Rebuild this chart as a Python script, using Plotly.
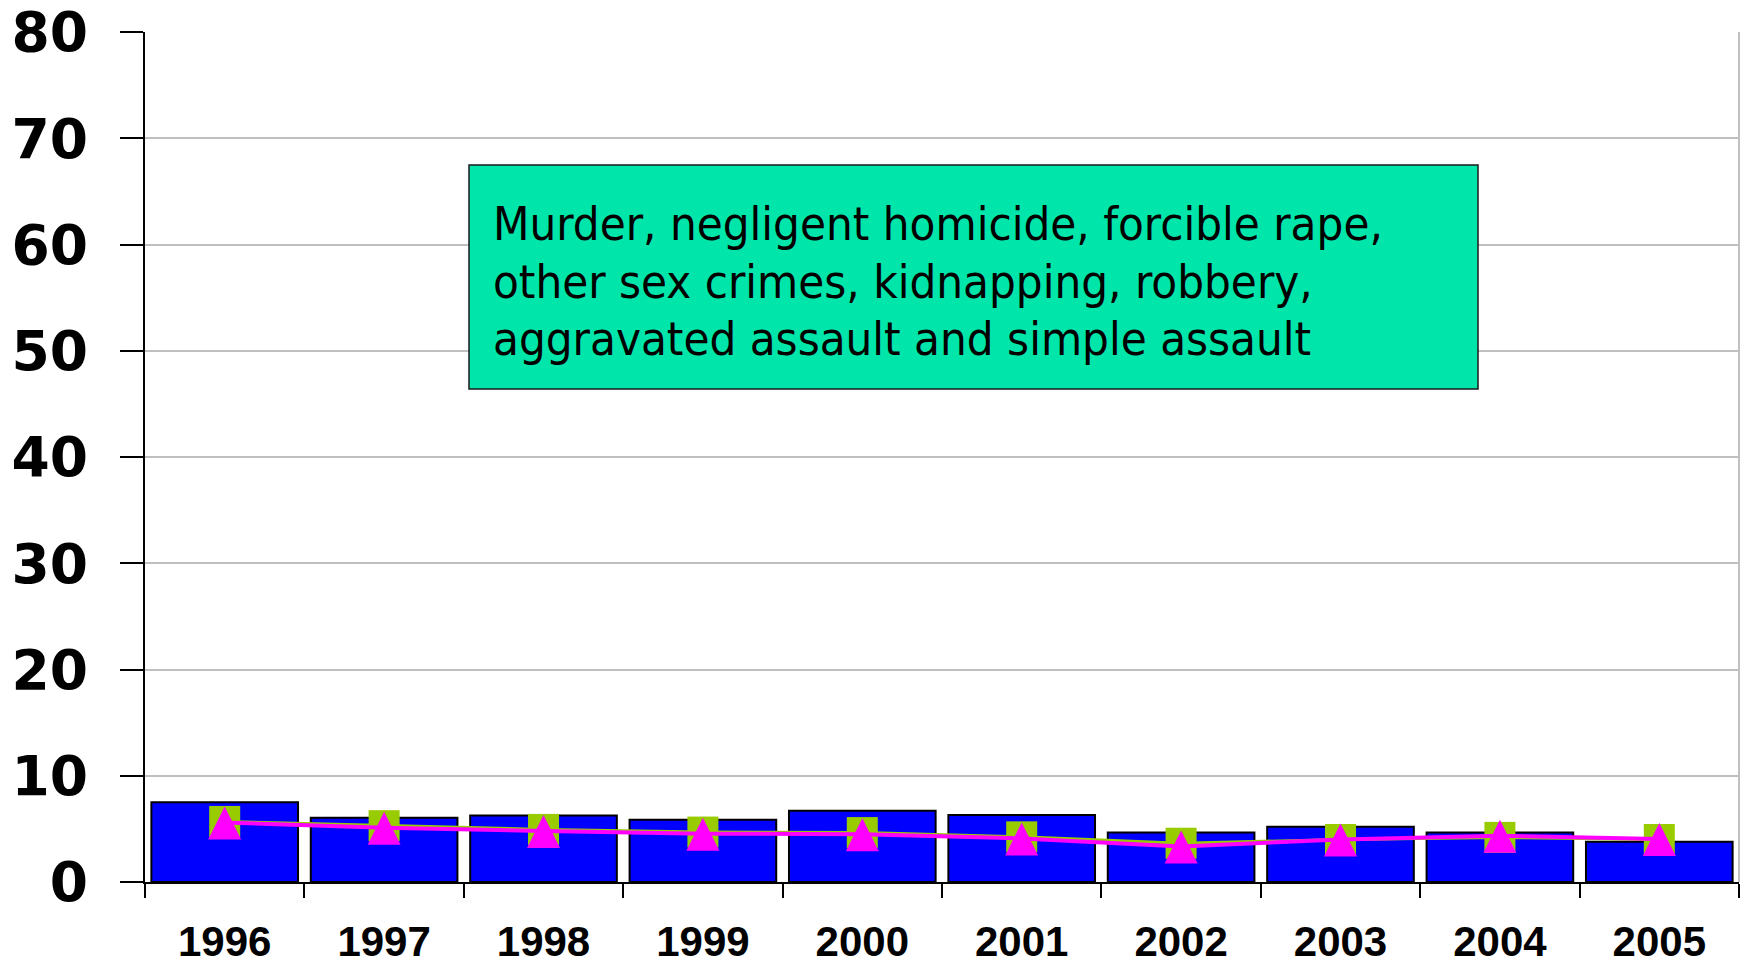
import plotly.graph_objects as go

# Yearly rates, 1996-2005
years = ["1996", "1997", "1998", "1999", "2000", "2001", "2002", "2003", "2004", "2005"]
bar_values = [7.5, 6.05, 6.25, 5.85, 6.7, 6.3, 4.65, 5.2, 4.65, 3.8]
green_values = [5.7, 5.3, 4.95, 4.7, 4.65, 4.25, 3.65, 4.0, 4.2, 4.0]
magenta_values = [5.6, 5.1, 4.8, 4.55, 4.5, 4.1, 3.35, 4.0, 4.35, 4.05]
y_ticks = [0, 10, 20, 30, 40, 50, 60, 70, 80]

note_lines = [
    "Murder, negligent homicide, forcible rape,",
    "other sex crimes, kidnapping, robbery,",
    "aggravated assault and simple assault",
]

W, H = 1742, 967
ML, MR, MT, MB = 145, 3, 32, 85
PW, PH = W - ML - MR, H - MT - MB


def px_x(x):
    return (x - ML) / PW


def px_y(y):
    return (H - MB - y) / PH


fig = go.Figure()

fig.add_trace(go.Bar(
    x=years, y=bar_values,
    marker=dict(color="#0000FF", line=dict(color="#000000", width=2)),
    showlegend=False, hoverinfo="x+y",
))

# Green series: line, then square markers
fig.add_trace(go.Scatter(
    x=years, y=green_values, mode="lines",
    line=dict(color="#99CC00", width=3), showlegend=False,
))
fig.add_trace(go.Scatter(
    x=years, y=green_values, mode="markers",
    marker=dict(symbol="square", size=31, color="#99CC00", line=dict(width=0)),
    showlegend=False,
))

# Magenta series: line, then upward triangles centred on each point
fig.add_trace(go.Scatter(
    x=years, y=magenta_values, mode="lines",
    line=dict(color="#FF00FF", width=4), showlegend=False,
))
fig.add_trace(go.Scatter(
    x=years, y=magenta_values, mode="markers",
    marker=dict(symbol="arrow-down", angle=180, size=33, standoff=16,
                color="#FF00FF", line=dict(width=0)),
    showlegend=False,
))

# Note box
fig.add_shape(
    type="rect", xref="paper", yref="paper",
    x0=px_x(469), x1=px_x(1478), y0=px_y(389), y1=px_y(165),
    fillcolor="#00E5AA", line=dict(color="#1A1A1A", width=1.5), layer="above",
)
for line_text, baseline in zip(note_lines, [239, 296, 353]):
    fig.add_annotation(
        xref="paper", yref="paper", x=px_x(491), y=px_y(baseline - 15),
        xanchor="left", yanchor="middle", align="left", showarrow=False,
        text=line_text,
        font=dict(family="DejaVu Sans Condensed, DejaVu Sans", size=47, color="#000000"),
    )

# Right-hand frame edge
fig.add_shape(
    type="line", xref="paper", yref="paper", x0=1, x1=1, y0=0, y1=1,
    line=dict(color="#C0C0C0", width=2),
)

fig.update_layout(
    width=W, height=H,
    margin=dict(l=ML, r=MR, t=MT, b=MB, pad=0, autoexpand=False),
    paper_bgcolor="#FFFFFF", plot_bgcolor="#FFFFFF",
    bargap=0.08, showlegend=False,
)

fig.update_xaxes(
    type="category", range=[-0.5, len(years) - 0.5], tickson="boundaries",
    automargin=False,
    showgrid=False, showline=True, linecolor="#000000", linewidth=2,
    ticks="outside", ticklen=14, tickwidth=2, tickcolor="#000000",
    tickfont=dict(family="Liberation Sans, Arial", size=42, color="#000000", weight="bold"),
    ticklabelstandoff=22,
)

fig.update_yaxes(
    range=[0, 80], tickvals=y_ticks, ticktext=[str(v) for v in y_ticks],
    automargin=False,
    showgrid=True, gridcolor="#C0C0C0", gridwidth=2, zeroline=False,
    showline=True, linecolor="#000000", linewidth=2,
    ticks="outside", ticklen=23, tickwidth=2, tickcolor="#000000",
    tickfont=dict(family="DejaVu Sans", size=55, color="#000000", weight="bold"),
    ticklabelstandoff=21,
)

fig.write_html("out.html")
